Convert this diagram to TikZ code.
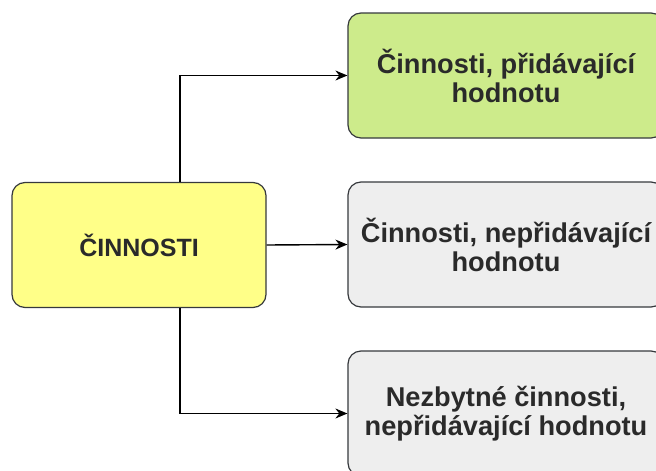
\documentclass[tikz,border=0pt]{standalone}
\usepackage{fontspec}
\setmainfont{Liberation Sans}
\usetikzlibrary{arrows.meta}
\definecolor{yfill}{HTML}{FFFF88}
\definecolor{gfill}{HTML}{CDEB8B}
\definecolor{grfill}{HTML}{EEEEEE}
\definecolor{strk}{HTML}{36393D}
\definecolor{txt}{HTML}{2A2A2A}
\begin{document}
\begin{tikzpicture}[x=1pt,y=-1pt,
  box/.style={draw=strk, line width=1.2pt, rounded corners=13pt, minimum width=#1, minimum height=125pt, align=center, text=txt, inner sep=0pt, font=\fontsize{27.2}{29}\selectfont\bfseries},
  conn/.style={draw=black, line width=1.4pt, -{Stealth[length=12pt,width=10pt]}}]
\useasboundingbox (0,0) rectangle (656,471);
\clip (0,0) rectangle (656,471);
\node[box=254pt, fill=yfill, font=\fontsize{25}{29}\selectfont\bfseries] (a) at (139,245) {ČINNOSTI};
\node[box=316pt, fill=gfill] (b) at (506,75.5) {Činnosti, přidávající\\hodnotu};
\node[box=316pt, fill=grfill] (c) at (506,244.5) {Činnosti, nepřidávající\\hodnotu};
\node[box=316pt, fill=grfill] (d) at (506,413.5) {Nezbytné činnosti,\\nepřidávající hodnotu};
\coordinate (t) at (180,0);
\draw[conn] (a.north -| t) |- (b.west);
\draw[conn] (a.east) -- (c.west);
\draw[conn] (a.south -| t) |- (d.west);
\end{tikzpicture}
\end{document}
